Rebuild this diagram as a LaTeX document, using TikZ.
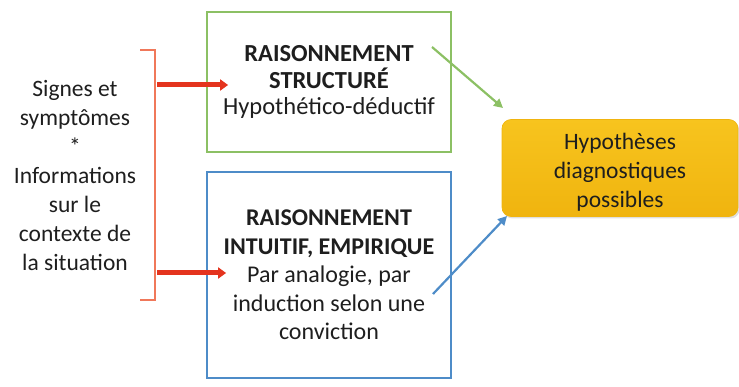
\documentclass[tikz,border=0pt]{standalone}
\usepackage{fontspec}
\setmainfont{Carlito}
\usetikzlibrary{arrows.meta,shadows}
\definecolor{boxgreen}{RGB}{140,192,100}
\definecolor{boxblue}{RGB}{78,140,200}
\definecolor{brk}{RGB}{240,120,90}
\definecolor{redarr}{RGB}{228,52,30}
\definecolor{goldfill}{RGB}{247,196,30}
\definecolor{golddark}{RGB}{240,180,15}
\definecolor{txt}{RGB}{30,30,30}
\tikzset{
  frame/.style={draw, line width=1.8pt, minimum width=244pt},
  boxtext/.style={align=center, text=txt, font=\fontsize{24.5}{26.5}\selectfont},
  redarrow/.style={draw=redarr, line width=5pt, -{Triangle[length=8pt,width=11pt]}},
  thinarrow/.style={line width=2.2pt, -{Triangle[length=9pt,width=9pt]}},
}
\begin{document}
\begin{tikzpicture}[x=1pt,y=-1pt]
\useasboundingbox (0,0) rectangle (739,387);
% left text
\node[align=center, text=txt, font=\fontsize{23.5}{29}\selectfont] (info) at (75,176)
  {Signes et\\symptômes\\*\\Informations\\sur le\\contexte de\\la situation};
% bracket
\draw[brk, line width=2.2pt] (140,50) -- (155,50) -- (155,300) -- (140,300);
\coordinate (b1) at (157,85);
\coordinate (b2) at (157,273);
% boxes
\node[frame, draw=boxgreen, minimum height=140pt] (green) at (329,82) {};
\node[boxtext] (gtext) at (329,82) {\textbf{RAISONNEMENT}\\\textbf{STRUCTURÉ}\\Hypothético-déductif};
\node[frame, draw=boxblue, minimum height=206pt] (blue) at (329,275) {};
\node[boxtext, font=\fontsize{24}{28.5}\selectfont] (btext) at (329,275) {\textbf{RAISONNEMENT}\\\textbf{INTUITIF, EMPIRIQUE}\\Par analogie, par\\induction selon une\\conviction};
\node[draw=golddark, line width=0.6pt, rounded corners=9pt, top color=goldfill, bottom color=golddark,
      drop shadow={shadow xshift=1.5pt, shadow yshift=-2pt, opacity=0.25},
      minimum width=236pt, minimum height=97pt] (hyp) at (620,168) {};
\node[align=center, text=txt, font=\fontsize{23.5}{29}\selectfont] (htext) at (620,172)
  {Hypothèses\\diagnostiques\\possibles};
% arrows
\coordinate (g1) at (432,47);
\coordinate (g2) at (503,108);
\coordinate (u1) at (433,294);
\coordinate (u2) at (507,216);
\coordinate (r1) at ([xshift=22pt]green.west |- b1);
\coordinate (r2) at ([xshift=20pt]blue.west |- b2);
\draw[redarrow] (b1) -- (r1);
\draw[redarrow] (b2) -- (r2);
\draw[thinarrow, boxgreen] (g1) -- (g2);
\draw[thinarrow, boxblue] (u1) -- (u2);
\end{tikzpicture}
\end{document}
